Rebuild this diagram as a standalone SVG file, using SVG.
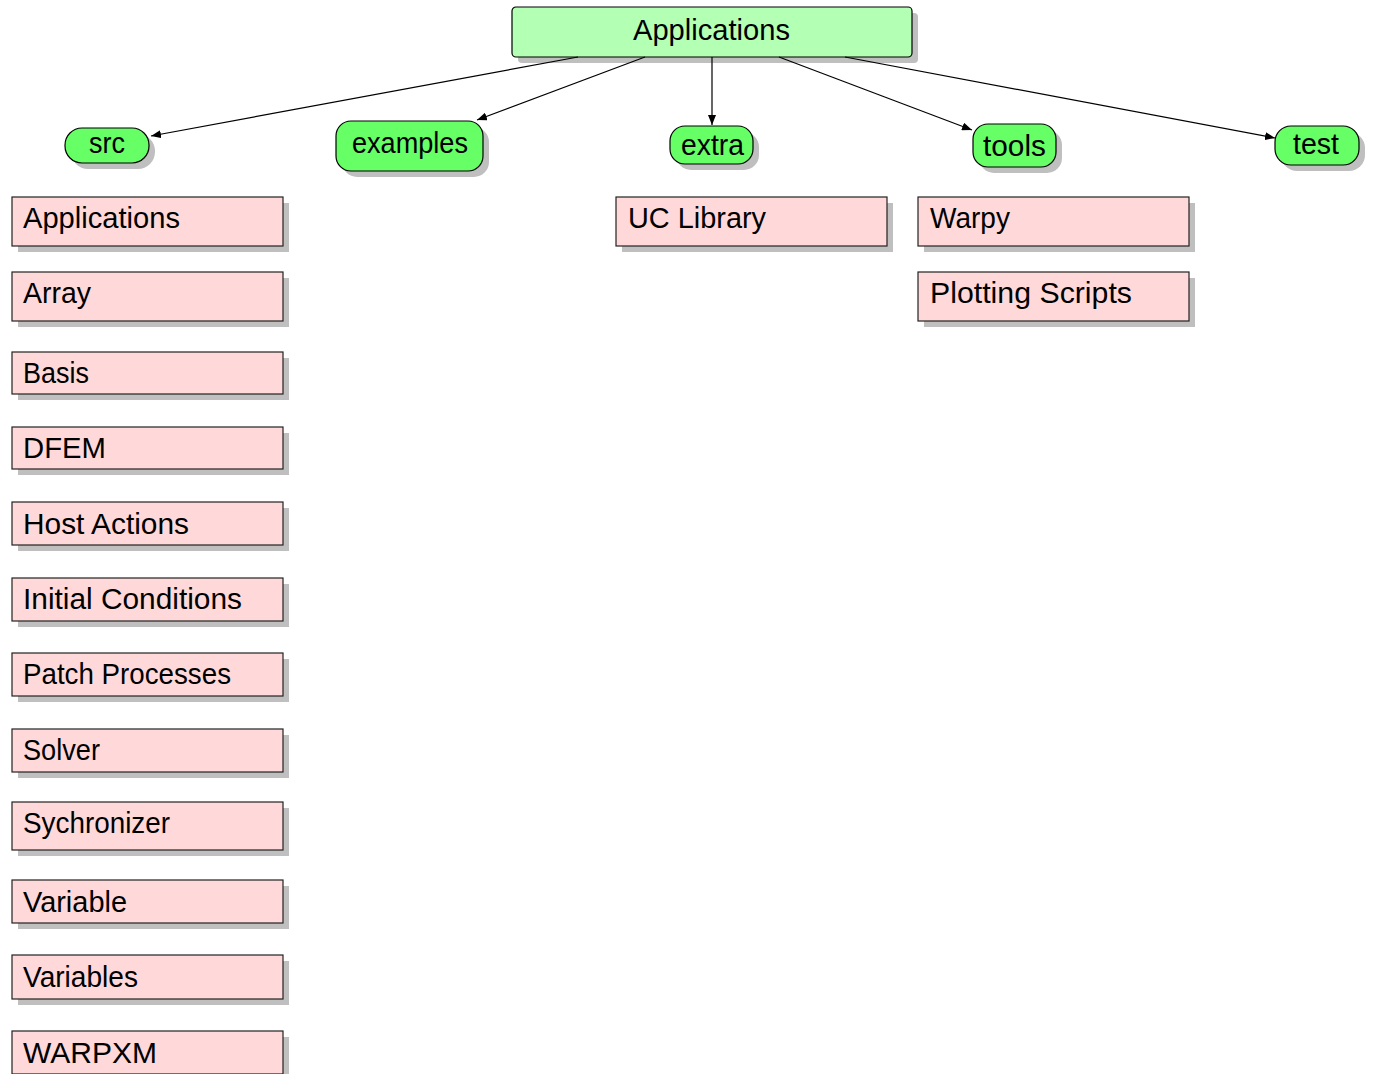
<svg xmlns="http://www.w3.org/2000/svg" width="1374" height="1074" viewBox="0 0 1374 1074">
  <style>
    text { font-family: "Liberation Sans", Arial, sans-serif; font-size: 29px; fill: #000; }
    .shadow { fill: #bfbfbf; stroke: none; }
    .root { fill: #b3ffb3; stroke: #000; stroke-width: 1.2; }
    .dir { fill: #66ff66; stroke: #000; stroke-width: 1.2; }
    .leaf { fill: #ffd9d9; stroke: #222; stroke-width: 1.2; }
    .edge { fill: none; stroke: #000; stroke-width: 1.2; marker-end: url(#tip); }
  </style>
  <defs>
    <marker id="tip" viewBox="0 0 10 8" refX="10" refY="4" markerWidth="10" markerHeight="8" markerUnits="userSpaceOnUse" orient="auto">
      <path d="M0,0 L10,4 L0,8 Z" fill="#000"/>
    </marker>
  </defs>
  <rect width="1374" height="1074" fill="#fff"/>

  <!-- root -->
  <g id="root">
    <rect class="shadow" x="518" y="13" width="400" height="50" rx="4"/>
    <rect class="root" x="512" y="7" width="400" height="50" rx="4"/>
    <text x="633" y="40" textLength="157" lengthAdjust="spacingAndGlyphs">Applications</text>
  </g>

  <!-- directories -->
  <g id="dir-src">
    <rect class="shadow" x="71" y="134" width="84" height="35" rx="17"/>
    <rect class="dir" x="65" y="128" width="84" height="35" rx="17"/>
    <text x="89" y="153" textLength="36" lengthAdjust="spacingAndGlyphs">src</text>
  </g>
  <g id="dir-examples">
    <rect class="shadow" x="342" y="127" width="147" height="50" rx="15"/>
    <rect class="dir" x="336" y="121" width="147" height="50" rx="15"/>
    <text x="352" y="153" textLength="116" lengthAdjust="spacingAndGlyphs">examples</text>
  </g>
  <g id="dir-extra">
    <rect class="shadow" x="676" y="132" width="83" height="38" rx="15"/>
    <rect class="dir" x="670" y="126" width="83" height="38" rx="15"/>
    <text x="681" y="155" textLength="63" lengthAdjust="spacingAndGlyphs">extra</text>
  </g>
  <g id="dir-tools">
    <rect class="shadow" x="979" y="130" width="83" height="43" rx="15"/>
    <rect class="dir" x="973" y="124" width="83" height="43" rx="15"/>
    <text x="983" y="156" textLength="63" lengthAdjust="spacingAndGlyphs">tools</text>
  </g>
  <g id="dir-test">
    <rect class="shadow" x="1281" y="132" width="84" height="39" rx="16"/>
    <rect class="dir" x="1275" y="126" width="84" height="39" rx="16"/>
    <text x="1293" y="154" textLength="46" lengthAdjust="spacingAndGlyphs">test</text>
  </g>

  <!-- src contents -->
  <g id="src-applications">
    <rect class="shadow" x="18" y="203" width="271" height="49"/>
    <rect class="leaf" x="12" y="197" width="271" height="49"/>
    <text x="23" y="228" textLength="157" lengthAdjust="spacingAndGlyphs">Applications</text>
  </g>
  <g id="src-array">
    <rect class="shadow" x="18" y="278" width="271" height="49"/>
    <rect class="leaf" x="12" y="272" width="271" height="49"/>
    <text x="23" y="303" textLength="68" lengthAdjust="spacingAndGlyphs">Array</text>
  </g>
  <g id="src-basis">
    <rect class="shadow" x="18" y="358" width="271" height="42"/>
    <rect class="leaf" x="12" y="352" width="271" height="42"/>
    <text x="23" y="383" textLength="66" lengthAdjust="spacingAndGlyphs">Basis</text>
  </g>
  <g id="src-dfem">
    <rect class="shadow" x="18" y="433" width="271" height="42"/>
    <rect class="leaf" x="12" y="427" width="271" height="42"/>
    <text x="23" y="458" textLength="83" lengthAdjust="spacingAndGlyphs">DFEM</text>
  </g>
  <g id="src-host-actions">
    <rect class="shadow" x="18" y="508" width="271" height="43"/>
    <rect class="leaf" x="12" y="502" width="271" height="43"/>
    <text x="23" y="534" textLength="166" lengthAdjust="spacingAndGlyphs">Host Actions</text>
  </g>
  <g id="src-initial-conditions">
    <rect class="shadow" x="18" y="584" width="271" height="43"/>
    <rect class="leaf" x="12" y="578" width="271" height="43"/>
    <text x="23" y="609" textLength="219" lengthAdjust="spacingAndGlyphs">Initial Conditions</text>
  </g>
  <g id="src-patch-processes">
    <rect class="shadow" x="18" y="659" width="271" height="43"/>
    <rect class="leaf" x="12" y="653" width="271" height="43"/>
    <text x="23" y="684" textLength="208" lengthAdjust="spacingAndGlyphs">Patch Processes</text>
  </g>
  <g id="src-solver">
    <rect class="shadow" x="18" y="735" width="271" height="43"/>
    <rect class="leaf" x="12" y="729" width="271" height="43"/>
    <text x="23" y="760" textLength="77" lengthAdjust="spacingAndGlyphs">Solver</text>
  </g>
  <g id="src-sychronizer">
    <rect class="shadow" x="18" y="808" width="271" height="48"/>
    <rect class="leaf" x="12" y="802" width="271" height="48"/>
    <text x="23" y="833" textLength="147" lengthAdjust="spacingAndGlyphs">Sychronizer</text>
  </g>
  <g id="src-variable">
    <rect class="shadow" x="18" y="886" width="271" height="43"/>
    <rect class="leaf" x="12" y="880" width="271" height="43"/>
    <text x="23" y="912" textLength="104" lengthAdjust="spacingAndGlyphs">Variable</text>
  </g>
  <g id="src-variables">
    <rect class="shadow" x="18" y="961" width="271" height="44"/>
    <rect class="leaf" x="12" y="955" width="271" height="44"/>
    <text x="23" y="987" textLength="115" lengthAdjust="spacingAndGlyphs">Variables</text>
  </g>
  <g id="src-warpxm">
    <rect class="shadow" x="18" y="1037" width="271" height="43"/>
    <rect class="leaf" x="12" y="1031" width="271" height="43"/>
    <text x="23" y="1063" textLength="134" lengthAdjust="spacingAndGlyphs">WARPXM</text>
  </g>

  <!-- extra contents -->
  <g id="extra-uc-library">
    <rect class="shadow" x="622" y="203" width="271" height="49"/>
    <rect class="leaf" x="616" y="197" width="271" height="49"/>
    <text x="628" y="228" textLength="138" lengthAdjust="spacingAndGlyphs">UC Library</text>
  </g>

  <!-- tools contents -->
  <g id="tools-warpy">
    <rect class="shadow" x="924" y="203" width="271" height="49"/>
    <rect class="leaf" x="918" y="197" width="271" height="49"/>
    <text x="930" y="228" textLength="80" lengthAdjust="spacingAndGlyphs">Warpy</text>
  </g>
  <g id="tools-plotting-scripts">
    <rect class="shadow" x="924" y="278" width="271" height="49"/>
    <rect class="leaf" x="918" y="272" width="271" height="49"/>
    <text x="930" y="303" textLength="202" lengthAdjust="spacingAndGlyphs">Plotting Scripts</text>
  </g>

  <!-- connectors from the root to each directory, drawn over the root's shadow -->
  <g id="connectors">
    <line class="edge" x1="578" y1="57" x2="151" y2="136"/>
    <line class="edge" x1="645" y1="57" x2="477" y2="120"/>
    <line class="edge" x1="712" y1="57" x2="712" y2="125"/>
    <line class="edge" x1="779" y1="57" x2="972" y2="130"/>
    <line class="edge" x1="845" y1="57" x2="1275" y2="138"/>
  </g>
</svg>
